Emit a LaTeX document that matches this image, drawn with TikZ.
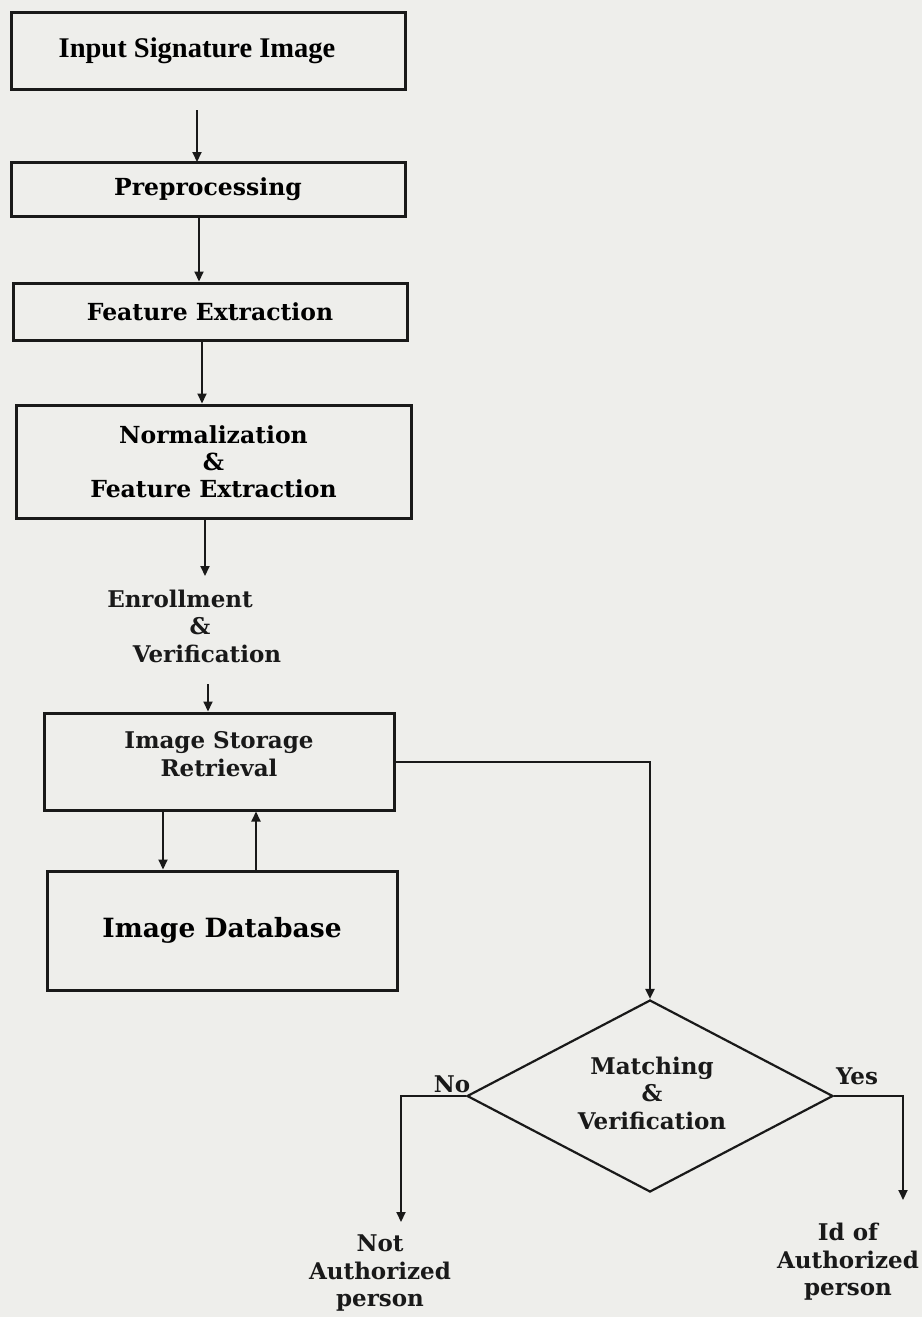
\documentclass[tikz,border=0pt]{standalone}
\usepackage{fontspec}
\setmainfont{DejaVu Serif}
\newfontfamily\titlefont{Liberation Serif}
\usetikzlibrary{arrows.meta,shapes.geometric}
\definecolor{paper}{RGB}{238,238,235}
\definecolor{ink}{RGB}{25,25,25}
\begin{document}
\begin{tikzpicture}[x=1pt,y=1pt,
  stepbox/.style={draw=ink,line width=3pt,minimum width=394pt,inner sep=0pt,
    font=\bfseries\fontsize{23.5}{27}\selectfont,align=center},
  lbl/.style={font=\bfseries\fontsize{23}{27.5}\selectfont,align=center,inner sep=0pt,text=ink},
  arr/.style={draw=ink,line width=2pt,-{Triangle[length=10pt,width=9pt]}},
  link/.style={draw=ink,line width=2pt}]
% page
\fill[paper] (0,0) rectangle (922,-1317);
\useasboundingbox (0,0) rectangle (922,-1317);

% main chain
\node[stepbox,minimum height=77pt,font=\titlefont\bfseries\fontsize{28.5}{32}\selectfont] (b1) at (208,-50.5) {Input Signature Image\hspace*{22pt}};
\node[stepbox,minimum height=54pt] (b2) at (208,-189) {Preprocessing};
\node[stepbox,minimum height=57pt] (b3) at (210,-311.5) {Feature Extraction};
\node[stepbox,minimum width=395pt,minimum height=113pt] (b4) at (213.5,-461.5) {Normalization\\\&\\Feature Extraction};
\node[lbl] (enr) at (200,-626) {Enrollment\hspace*{40pt}\\\&\\\hspace*{14pt}Verification};
\node[stepbox,minimum width=350pt,minimum height=97pt] (b5) at (219,-761.5) {};
\node[lbl] (b5t) at (219,-754) {Image Storage\\Retrieval};
\node[stepbox,minimum width=350pt,minimum height=119pt,font=\bfseries\fontsize{26.5}{30}\selectfont] (b6) at (222,-930.5) {Image Database};

% decision
\node[diamond,draw=ink,line width=2.2pt,minimum width=366pt,minimum height=192pt,inner sep=0pt] (dia) at (650,-1096) {};
\node[lbl] (diat) at (652,-1093) {Matching\\\&\\Verification};
\node[lbl] (no) at (452,-1084) {No};
\node[lbl] (yes) at (857,-1076) {Yes};
\node[lbl] (nauth) at (380,-1273) {Not\\Authorized\\person};
\node[lbl] (auth) at (848,-1262) {Id of\\Authorized\\person};

% free ends and bends
\coordinate (s1) at (197,-110);
\coordinate (e1) at (197,-162);
\coordinate (e4) at (205,-576);
\coordinate (s5) at (208,-684);
\coordinate (xdn) at (163,0);
\coordinate (xup) at (256,0);
\coordinate (x2) at (199,0);
\coordinate (x3) at (202,0);
\coordinate (xno) at (401,0);
\coordinate (xyes) at (903,0);
\coordinate (noend) at (401,-1222);
\coordinate (yesend) at (903,-1200);

% connectors
\draw[arr] (s1) -- (e1);
\draw[arr] (b2.south -| x2) -- (b3.north -| x2);
\draw[arr] (b3.south -| x3) -- (b4.north -| x3);
\draw[arr] (b4.south -| e4) -- (e4);
\draw[arr] (s5) -- (b5.north -| s5);
\draw[arr] (b5.south -| xdn) -- (b6.north -| xdn);
\draw[arr] (b6.north -| xup) -- (b5.south -| xup);
\draw[arr] (b5.east) -| (dia.north);
\draw[arr] (dia.west) -- (dia.west -| xno) -- (noend);
\draw[arr] (dia.east) -- (dia.east -| xyes) -- (yesend);
\end{tikzpicture}
\end{document}
